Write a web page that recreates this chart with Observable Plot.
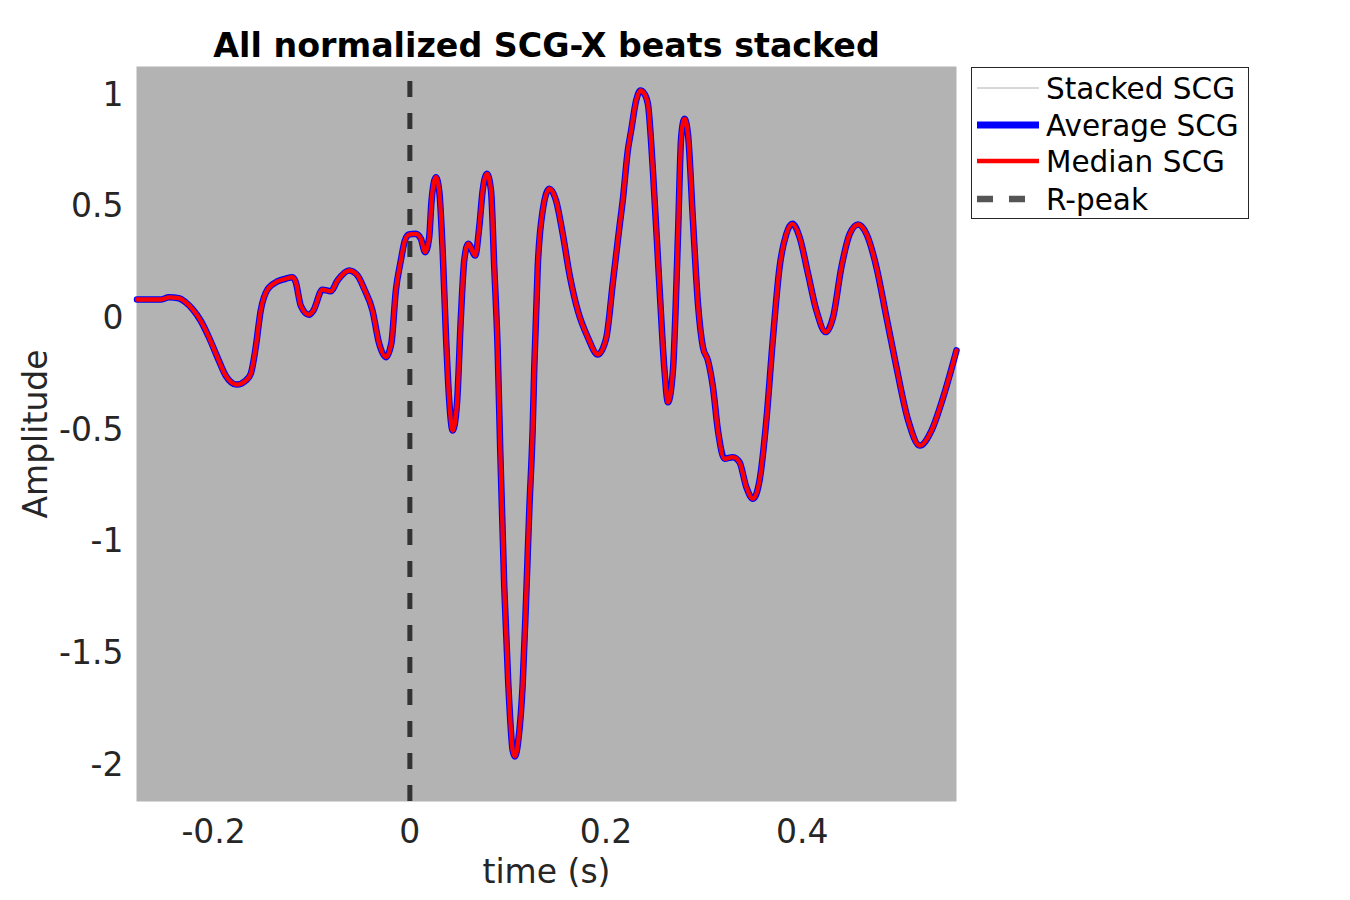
<!DOCTYPE html>
<html>
<head>
<meta charset="utf-8">
<script src="https://cdn.jsdelivr.net/npm/d3@7"></script>
<script src="https://cdn.jsdelivr.net/npm/@observablehq/plot@0.6"></script>
<style>
  html, body { margin: 0; padding: 0; background: #fff; }
  #wrap { position: relative; width: 1350px; height: 900px; font-family: "DejaVu Sans", sans-serif; }
  #legend { position: absolute; left: 971px; top: 67px; }
</style>
</head>
<body>
<div id="wrap"><div id="chart"></div><div id="legend"></div></div>
<script>
const titleText = "All normalized SCG-X beats stacked";
const xLabel = "time (s)";
const yLabel = "Amplitude";

const xTicks = [-0.2, 0, 0.2, 0.4];
const xTickLabels = ["-0.2", "0", "0.2", "0.4"];
const yTicks = [-2, -1.5, -1, -0.5, 0, 0.5, 1];
const yTickLabels = ["-2", "-1.5", "-1", "-0.5", "0", "0.5", "1"];

const xDomain = [-0.2786, 0.5571];
const yDomain = [-2.163, 1.1285];

const rPeak = [0];

const legendLabels = ["Stacked SCG", "Average SCG", "Median SCG", "R-peak"];

// time (s) of the traced beat
const time = [
 -0.2781,-0.2541,-0.2456,-0.2354,-0.2286,-0.2217,-0.2133,-0.2048,-0.1962,-0.1878,
 -0.1765,-0.1673,-0.1622,-0.1571,-0.1520,-0.1452,-0.1350,-0.1265,-0.1197,-0.1163,
 -0.1112,-0.1028,-0.0983,-0.0891,-0.0806,-0.0738,-0.0619,-0.0534,-0.0466,-0.0381,
 -0.0313,-0.0245,-0.0189,-0.0143,-0.0092,-0.0051,-0.0010,0.0061,0.0112,0.0156,
 0.0197,0.0221,0.0265,0.0299,0.0334,0.0367,0.0401,0.0436,0.0480,0.0520,
 0.0554,0.0595,0.0666,0.0707,0.0742,0.0786,0.0827,0.0860,0.0895,0.0921,
 0.0962,0.1003,0.1048,0.1071,0.1105,0.1150,0.1184,0.1217,0.1252,0.1268,
 0.1303,0.1354,0.1421,0.1490,0.1558,0.1626,0.1711,0.1813,0.1915,0.2000,
 0.2071,0.2136,0.2170,0.2221,0.2255,0.2306,0.2350,0.2388,0.2426,0.2477,
 0.2544,0.2595,0.2630,0.2681,0.2732,0.2765,0.2799,0.2834,0.2885,0.2936,
 0.2987,0.3038,0.3089,0.3140,0.3207,0.3293,0.3360,0.3429,0.3497,0.3564,
 0.3633,0.3701,0.3768,0.3837,0.3898,0.3972,0.4058,0.4143,0.4238,0.4313,
 0.4398,0.4483,0.4568,0.4653,0.4755,0.4857,0.4959,0.5079,0.5197,0.5316,
 0.5436,0.5571
];

// amplitude of the (average = median = stacked) beat
const amplitude = [
 0.085,0.085,0.095,0.091,0.073,0.043,-0.009,-0.084,-0.173,-0.255,
 -0.296,-0.278,-0.248,-0.129,0.036,0.129,0.166,0.178,0.185,0.163,
 0.058,0.017,0.036,0.129,0.122,0.170,0.215,0.193,0.133,0.036,
 -0.113,-0.173,-0.112,0.125,0.260,0.349,0.376,0.379,0.357,0.297,
 0.364,0.528,0.633,0.573,0.305,-0.069,-0.367,-0.502,-0.382,0.006,
 0.260,0.335,0.282,0.409,0.573,0.648,0.573,0.230,-0.143,-0.591,
 -1.203,-1.636,-1.935,-1.961,-1.890,-1.636,-1.263,-0.860,-0.487,-0.218,
 0.230,0.484,0.581,0.528,0.379,0.200,0.036,-0.084,-0.161,-0.090,
 0.170,0.410,0.530,0.752,0.842,0.976,1.021,1.008,0.961,0.663,
 0.140,-0.233,-0.375,-0.233,0.364,0.812,0.894,0.827,0.439,0.066,
 -0.129,-0.188,-0.308,-0.502,-0.628,-0.621,-0.644,-0.755,-0.807,-0.725,
 -0.457,-0.084,0.230,0.379,0.424,0.364,0.200,0.036,-0.061,0.006,
 0.230,0.379,0.421,0.379,0.230,0.006,-0.218,-0.457,-0.569,-0.502,
 -0.352,-0.143
];

const beat = time.map((t, i) => ({t, a: amplitude[i]}));

const font = "DejaVu Sans";
const tickColor = "#262626";

const chart = Plot.plot({
  width: 1350,
  height: 900,
  marginLeft: 136,
  marginRight: 394,
  marginTop: 66,
  marginBottom: 99,
  style: {fontFamily: font, background: "transparent", color: tickColor},
  x: {domain: xDomain},
  y: {domain: yDomain},
  marks: [
    Plot.frame({fill: "#b3b3b3", stroke: null}),
    Plot.line(beat, {x: "t", y: "a", stroke: "#aaaaaa", strokeWidth: 0.8, curve: "monotone-x"}),
    Plot.line(beat, {x: "t", y: "a", stroke: "#0000ff", strokeWidth: 6.5, curve: "monotone-x", strokeLinejoin: "round"}),
    Plot.line(beat, {x: "t", y: "a", stroke: "#ff0000", strokeWidth: 4.3, curve: "monotone-x", strokeLinejoin: "round"}),
    Plot.ruleX(rPeak, {x: d => d, y1: () => yDomain[0], y2: () => yDomain[1], stroke: "#333333", strokeWidth: 5, strokeDasharray: "16,16"}),
    Plot.axisX({
      ticks: xTicks,
      tickFormat: d => xTickLabels[xTicks.indexOf(d)],
      tickSize: 0,
      tickPadding: 18,
      fontSize: 33,
      fill: tickColor,
      label: xLabel,
      labelAnchor: "center",
      labelOffset: 81,
      labelArrow: "none"
    }),
    Plot.axisY({
      ticks: yTicks,
      tickFormat: d => yTickLabels[yTicks.indexOf(d)],
      tickSize: 0,
      tickPadding: 13,
      fontSize: 33,
      fill: tickColor,
      label: yLabel,
      labelAnchor: "center",
      labelOffset: 113,
      labelArrow: "none"
    }),
    Plot.text([titleText], {
      text: d => d,
      frameAnchor: "top",
      lineAnchor: "bottom",
      dy: -10,
      fontSize: 33.3,
      fontWeight: "bold",
      fill: "#000000"
    })
  ]
});
document.getElementById("chart").appendChild(chart);

// legend
const lw = 278, lh = 152;
const leg = d3.select("#legend").append("svg").attr("width", lw).attr("height", lh)
  .style("font-family", font);
leg.append("rect").attr("x", 0.5).attr("y", 0.5).attr("width", lw - 1).attr("height", lh - 1)
  .attr("fill", "#ffffff").attr("stroke", "#262626").attr("stroke-width", 1);
const rows = [
  {stroke: "#b0b0b0", width: 1, dash: null},
  {stroke: "#0000ff", width: 7, dash: null},
  {stroke: "#ff0000", width: 4.7, dash: null},
  {stroke: "#555555", width: 6.5, dash: "16,16"}
];
const rowY = [21, 58, 94, 132];
rows.forEach((r, i) => {
  const g = leg.append("g");
  g.append("line").attr("x1", 6).attr("x2", 68).attr("y1", rowY[i]).attr("y2", rowY[i])
    .attr("stroke", r.stroke).attr("stroke-width", r.width)
    .attr("stroke-dasharray", r.dash);
  g.append("text").attr("x", 75).attr("y", rowY[i]).attr("dy", "0.36em")
    .attr("font-size", 29.5).attr("fill", "#000000").text(legendLabels[i]);
});
</script>
</body>
</html>
